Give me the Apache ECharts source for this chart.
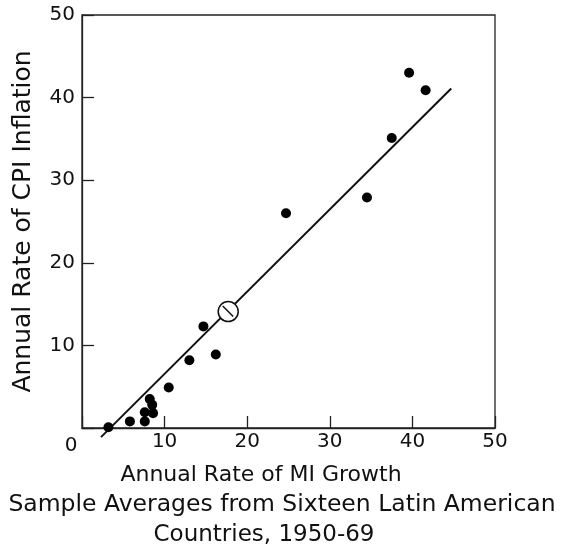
<!DOCTYPE html>
<html>
<head>
<meta charset="utf-8">
<script src="https://cdn.jsdelivr.net/npm/echarts@6/dist/echarts.min.js"></script>
<style>
  html, body { margin: 0; padding: 0; background: #fff; }
  #chart { width: 562px; height: 551px; }
</style>
</head>
<body>
<div id="chart"></div>
<script>
// Money growth vs. inflation, country sample averages (percent per year)
const m1Growth = [3.2, 5.8, 7.6, 7.6, 8.6, 8.5, 8.2, 10.5, 13.0, 14.7, 16.2, 24.7, 34.5, 37.5, 39.6, 41.6];
const cpiInflation = [0.1, 0.8, 0.8, 1.9, 1.8, 2.8, 3.5, 4.9, 8.2, 12.3, 8.9, 26.0, 27.9, 35.1, 43.0, 40.9];

// Mean of the sample
const meanPoint = [17.7, 14.1];

// Fitted line end points
const fitX = [2.3, 44.7];
const fitY = [-1.1, 41.1];

const xTicks = [0, 10, 20, 30, 40, 50];
const yTicks = [0, 10, 20, 30, 40, 50];

const xTitleLines = ['Annual Rate of MI Growth', 'Sample Averages from Sixteen Latin American', 'Countries, 1950-69'];
const yTitle = 'Annual Rate of CPI Inflation';

const FONT = '"DejaVu Sans"';
const INK = '#111';

const chart = echarts.init(document.getElementById('chart'), null, { renderer: 'canvas' });

const axisCommon = {
  min: 0, max: 50, interval: 10,
  axisLine: { show: true, onZero: false, lineStyle: { color: '#222', width: 1.3 } },
  axisTick: { show: true, inside: true, length: 12, lineStyle: { color: '#222', width: 1.3 } },
  splitLine: { show: false }
};

chart.setOption({
  animation: false,
  backgroundColor: '#fff',
  grid: { left: 82, right: 67, top: 15, bottom: 123, show: true, borderColor: '#222', borderWidth: 1.3, backgroundColor: 'transparent' },
  xAxis: Object.assign({}, axisCommon, {
    type: 'value',
    axisLabel: {
      color: INK, fontFamily: FONT, fontSize: 20, margin: 4,
      formatter: v => xTicks.includes(v) ? (v === 0 ? '{z|0}' : String(v)) : '',
      rich: { z: { color: INK, fontFamily: FONT, fontSize: 20, padding: [4, 22, 0, 0] } }
    }
  }),
  yAxis: Object.assign({}, axisCommon, {
    type: 'value',
    axisLabel: {
      color: INK, fontFamily: FONT, fontSize: 20, margin: 7,
      formatter: v => (yTicks.includes(v) && v !== 0) ? String(v) : ''
    },
    name: yTitle,
    nameLocation: 'middle',
    nameGap: 46,
    nameTextStyle: { color: INK, fontFamily: FONT, fontSize: 25 }
  }),
  graphic: xTitleLines.map((t, i) => ({
    type: 'text',
    x: [261, 282, 264][i],
    y: [475, 505, 535][i],
    style: { text: t, fill: INK, font: [22, 23.5, 23][i] + 'px ' + FONT, textAlign: 'center', textVerticalAlign: 'middle' }
  })),
  series: [
    {
      type: 'line',
      data: fitX.map((x, i) => [x, fitY[i]]),
      clip: false,
      symbol: 'none',
      lineStyle: { color: '#111', width: 2 },
      z: 2
    },
    {
      type: 'scatter',
      data: m1Growth.map((x, i) => [x, cpiInflation[i]]),
      symbol: 'circle',
      symbolSize: 10,
      itemStyle: { color: '#000', opacity: 1 },
      z: 3
    },
    {
      type: 'custom',
      data: [meanPoint],
      z: 4,
      renderItem: (params, api) => {
        const c = api.coord([api.value(0), api.value(1)]);
        return {
          type: 'group',
          children: [
            { type: 'circle', shape: { cx: c[0], cy: c[1], r: 10 }, style: { fill: '#fff', stroke: '#111', lineWidth: 1.5 } },
            { type: 'line', shape: { x1: c[0] - 5.5, y1: c[1] - 5.5, x2: c[0] + 5, y2: c[1] + 5 }, style: { stroke: '#111', lineWidth: 1.5 } }
          ]
        };
      }
    }
  ]
});
</script>
</body>
</html>
